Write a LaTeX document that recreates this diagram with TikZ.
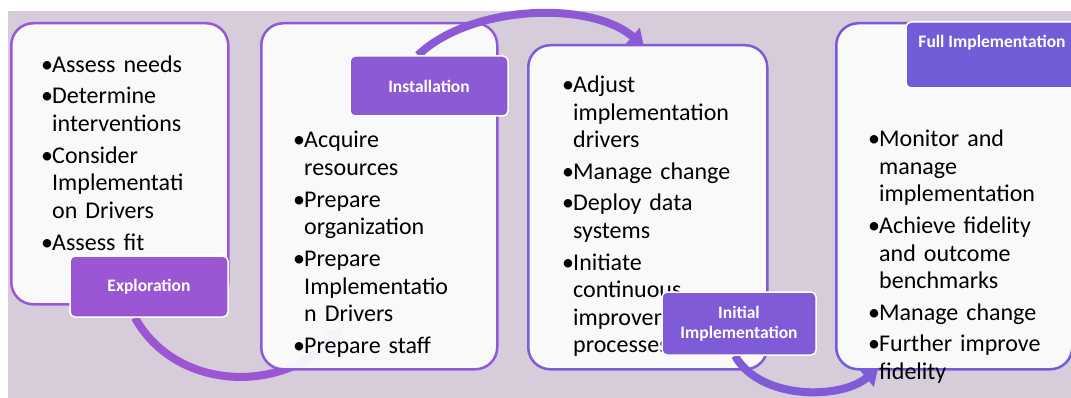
\documentclass[tikz,border=0pt]{standalone}
\usepackage{fontspec}
\setmainfont{Carlito}
\usetikzlibrary{arrows.meta}
\pgfdeclarelayer{back}
\pgfdeclarelayer{under}
\pgfdeclarelayer{front}
\pgfsetlayers{back,under,main,front}
\definecolor{stagebg}{HTML}{D6CCDA}
\definecolor{boxfill}{HTML}{FDFDFD}
\definecolor{purpleA}{HTML}{9B57D3}
\definecolor{purpleB}{HTML}{8D5AD5}
\definecolor{purpleC}{HTML}{7F5BD7}
\definecolor{purpleD}{HTML}{735CD8}
\newlength{\bulw}
\setlength{\bulw}{11pt}
\newcommand{\bitem}[1]{\noindent\makebox[\bulw][l]{•}\begin{tabular}[t]{@{}l@{}}#1\end{tabular}\par}

\begin{document}
\begin{tikzpicture}[x=1pt,y=-1pt]
	\tikzstyle{stage box}=[draw, line width=2.5pt, fill=boxfill, fill opacity=0.93, rounded corners=22pt, anchor=north west, inner sep=0pt]
	\tikzstyle{stage label}=[draw=white, line width=1.5pt, rounded corners=5pt, text=white, font=\fontsize{17.5}{19.5}\selectfont\bfseries, align=center, inner sep=0pt]
	\tikzstyle{stage text}=[anchor=base west, inner sep=0pt, text width=200pt, align=left, font=\fontsize{24}{27.5}\selectfont, execute at begin node={\setlength{\parskip}{3.5pt}}]
	\tikzstyle{stage arrow}=[-{Triangle[width=22pt,length=15pt]}, line width=8pt]

	\useasboundingbox (0,0) rectangle (1071,398);
	% Draw the background
	\begin{pgfonlayer}{back}
	\fill[stagebg] (8,11) rectangle (1071,398);
	\end{pgfonlayer}

	% Draw the stage boxes
	\foreach \name/\x/\y/\w/\h/\col in {exbox/10/22/217/281/purpleA, inbox/260/22/236/346/purpleB, ibox/527/44/239/324/purpleC, fbox/835/22/236/346/purpleD}
	\node[stage box, draw=\col, minimum width=\w pt, minimum height=\h pt] (\name) at (\x,\y) {};

	% Draw the stage labels
	\begin{pgfonlayer}{front}
	\node[stage label, fill=purpleA, minimum width=158pt, minimum height=61pt] (exlab) at (149,286.5) {Exploration};
	\node[stage label, fill=purpleB, minimum width=158pt, minimum height=60pt] (inlab) at (429,86) {Installation};
	\node[stage label, fill=purpleC, minimum width=154pt, minimum height=63pt] (iilab) at (739,323.5) {Initial\\Implementation};
	\node[stage label, fill=purpleD, minimum width=172pt, minimum height=66pt] (fulab) at (992,55) {Full Implementation\\[8pt]\mbox{}};
	\end{pgfonlayer}

	% Bullet lists
	\node[stage text] (extxt) at (41,73) {\bitem{Assess needs}\bitem{Determine\\interventions}\bitem{Consider\\Implementati\\on Drivers}\bitem{Assess fit}};
	\node[stage text] (intxt) at (293,148) {\bitem{Acquire\\resources}\bitem{Prepare\\organization}\bitem{Prepare\\Implementatio\\n Drivers}\bitem{Prepare staff}};
	\node[stage text] (iitxt) at (562,93) {\bitem{Adjust\\implementation\\drivers}\bitem{Manage change}\bitem{Deploy data\\systems}\bitem{Initiate\\continuous\\improvement\\processes}};
	\node[stage text] (futxt) at (868,147) {\bitem{Monitor and\\manage\\implementation}\bitem{Achieve fidelity\\and outcome\\benchmarks}\bitem{Manage change}\bitem{Further improve\\fidelity}};

	% Connect the stages
	\begin{pgfonlayer}{under}
	\draw[stage arrow, purpleA] ([xshift=-14pt]exlab.south) .. controls (175,390) and (280,395) .. ([xshift=82pt,yshift=42pt]inbox.south west);
	\end{pgfonlayer}
	\draw[stage arrow, purpleB] ([xshift=-11pt]inlab.north) .. controls (470,5) and (590,0) .. ([xshift=-4pt,yshift=-2pt]ibox.north);
	\draw[stage arrow, purpleC] ([xshift=-4pt]iilab.south) .. controls (760,400) and (840,400) .. ([xshift=43pt,yshift=2pt]fbox.south west);
\end{tikzpicture}
\end{document}
